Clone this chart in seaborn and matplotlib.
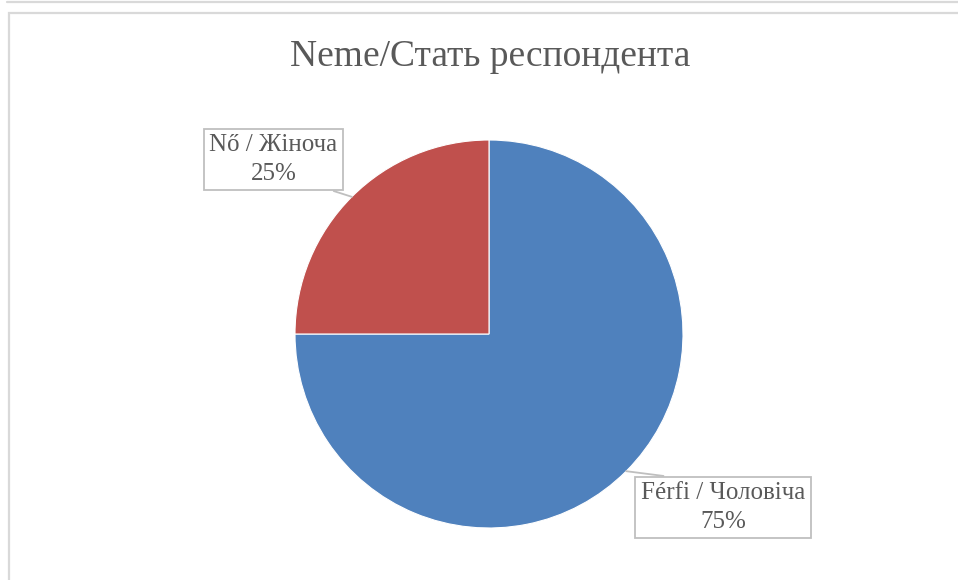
import numpy as np
import matplotlib
matplotlib.use("Agg")
import matplotlib.pyplot as plt
from matplotlib.lines import Line2D
from matplotlib.patches import Rectangle
import seaborn as sns

title = "Neme/Стать респондента"
categories = ["Férfi / Чоловіча", "Nő / Жіноча"]
values = [75, 25]
pct_labels = ["75%", "25%"]

sns.set_theme(style="white")
plt.rcParams['font.family'] = ['Liberation Serif', 'DejaVu Serif']

W, H = 958, 580
fig = plt.figure(figsize=(W / 100, H / 100), dpi=100)
fig.patch.set_facecolor("white")

# chart frame decorations
fig.add_artist(Line2D([7 / W, 1], [1 - 1.5 / H, 1 - 1.5 / H], color="#D9D9D9", lw=1.6))
fig.add_artist(Rectangle((8.5 / W, -0.05), 1.2, 1 - 12.5 / H + 0.05, fill=False,
                         edgecolor="#D9D9D9", lw=1.6))

cx, cy, r = 489, 334, 194
ax = fig.add_axes([(cx - r) / W, (H - cy - r) / H, 2 * r / W, 2 * r / H])
colors = ["#4F81BD", "#C0504D"]
wedges, _ = ax.pie(values, colors=colors, startangle=90, counterclock=False,
                   radius=1, wedgeprops=dict(edgecolor="white", linewidth=0.8))
ax.set_xlim(-1, 1)
ax.set_ylim(-1, 1)
ax.set_aspect("equal")
ax.axis("off")

text_pos = [((723 - cx) / r, (cy - 507.5) / r), ((273.5 - cx) / r, (cy - 159.5) / r)]
relpos = [(0.43, 1.0), (0.82, 0.0)]
for w, cat, pl, tp, rp in zip(wedges, categories, pct_labels, text_pos, relpos):
    ang = np.deg2rad((w.theta1 + w.theta2) / 2)
    x, y = np.cos(ang), np.sin(ang)
    ax.annotate(f"{cat}\n{pl}", xy=(x, y), xytext=tp, ha="center", va="center",
                fontsize=18, color="#595959", linespacing=1.4,
                bbox=dict(boxstyle="square,pad=0.22", fc="white", ec="#BFBFBF", lw=1.3),
                arrowprops=dict(arrowstyle="-", color="#BFBFBF", lw=1.3,
                                shrinkA=0, shrinkB=0, relpos=rp),
                annotation_clip=False)

fig.text(490 / W, 1 - 66 / H, title, ha="center", va="baseline", fontsize=27,
         color="#595959")

fig.savefig("out.png", dpi=100)
